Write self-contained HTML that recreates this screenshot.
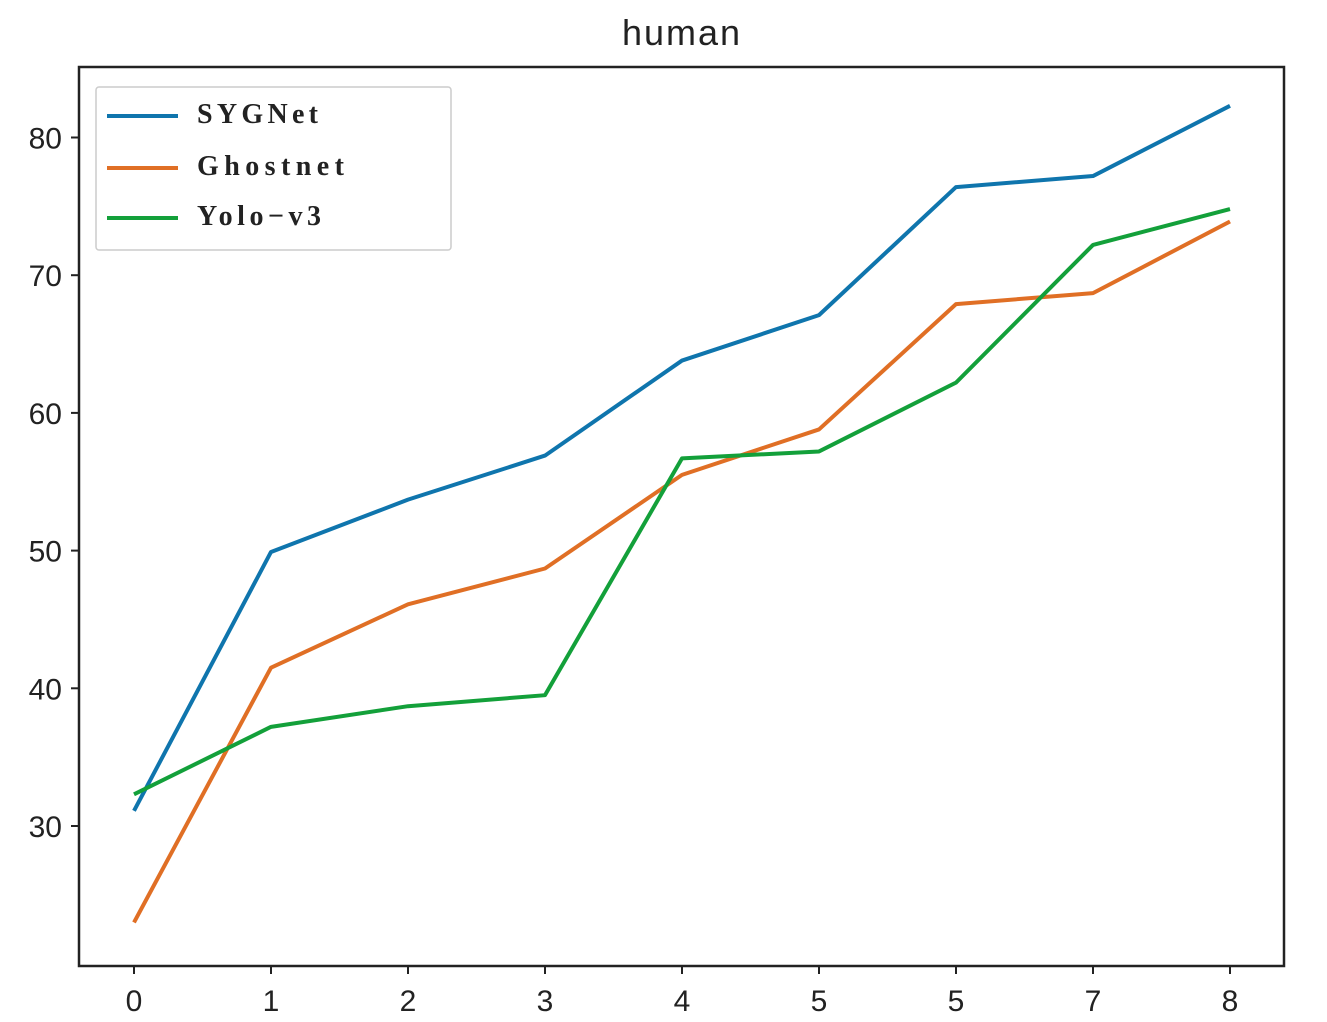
<!DOCTYPE html>
<html><head><meta charset="utf-8"><style>
html,body{margin:0;padding:0;background:#fff;}
svg{display:block;}
</style></head><body>
<svg id="chart" width="1327" height="1022" xmlns="http://www.w3.org/2000/svg">
<text x="681" y="45" font-family="Liberation Sans, sans-serif" font-size="36" text-anchor="middle" fill="#222" textLength="118">human</text>
<rect x="79" y="67" width="1205" height="899" fill="none" stroke="#222" stroke-width="2.5"/>
<g id="axes"></g>
<g id="series"></g>
<g>
<rect x="96" y="87" width="355" height="163" fill="#fff" stroke="#ccc" stroke-width="1.5" rx="3"/>
<line x1="107" y1="116" x2="178" y2="116" stroke="#0f75ad" stroke-width="4"/>
<text x="197" y="123" font-family="Liberation Serif, serif" font-weight="bold" font-size="28" fill="#222" textLength="121">SYGNet</text>
<line x1="107" y1="168" x2="178" y2="168" stroke="#e06f25" stroke-width="4"/>
<text x="197" y="175" font-family="Liberation Serif, serif" font-weight="bold" font-size="28" fill="#222" textLength="147">Ghostnet</text>
<line x1="107" y1="218" x2="178" y2="218" stroke="#13a03a" stroke-width="4"/>
<text x="197" y="225" font-family="Liberation Serif, serif" font-weight="bold" font-size="28" fill="#222" textLength="124">Yolo−v3</text>
</g>
</svg>
<script>
const xLabels = ["0","1","2","3","4","5","5","7","8"];
const yTicks = [30,40,50,60,70,80];
const sygnet = [31.1,49.9,53.7,56.9,63.8,67.1,76.4,77.2,82.3];
const ghostnet = [23.0,41.5,46.1,48.7,55.5,58.8,67.9,68.7,73.9];
const yolo = [32.3,37.2,38.7,39.5,56.7,57.2,62.2,72.2,74.8];
const NS="http://www.w3.org/2000/svg";
function xs(i){return 134+i*137.0;}
function ys(v){return 826-(v-30)*13.77;}
const axes=document.getElementById('axes');
function mk(tag,attrs,parent){const e=document.createElementNS(NS,tag);for(const k in attrs)e.setAttribute(k,attrs[k]);parent.appendChild(e);return e;}
yTicks.forEach(v=>{
  const t=mk('line',{x1:71,x2:79,y1:ys(v),y2:ys(v),stroke:'#222','stroke-width':2},axes);
  
  
  const l=mk('text',{x:62,y:ys(v)+11,'text-anchor':'end','font-family':'Liberation Sans, sans-serif','font-size':30,fill:'#222'},axes);
  l.textContent=v;
  
  
});
xLabels.forEach((s,i)=>{
  const t=mk('line',{x1:xs(i),x2:xs(i),y1:966,y2:974,stroke:'#222','stroke-width':2},axes);
  
  
  const l=mk('text',{x:xs(i),y:1011,'text-anchor':'middle','font-family':'Liberation Sans, sans-serif','font-size':30,fill:'#222'},axes);
  l.textContent=s;
  
  
});
const ser=document.getElementById('series');
[[sygnet,'#0f75ad','sygnet-line'],[ghostnet,'#e06f25','ghostnet-line'],[yolo,'#13a03a','yolo-v3-line']].forEach(([d,c,n])=>{
  const p=mk('polyline',{points:d.map((v,i)=>xs(i)+','+ys(v)).join(' '),fill:'none',stroke:c,'stroke-width':4,'stroke-linejoin':'round'},ser);
  
  
});
</script>
</body></html>
